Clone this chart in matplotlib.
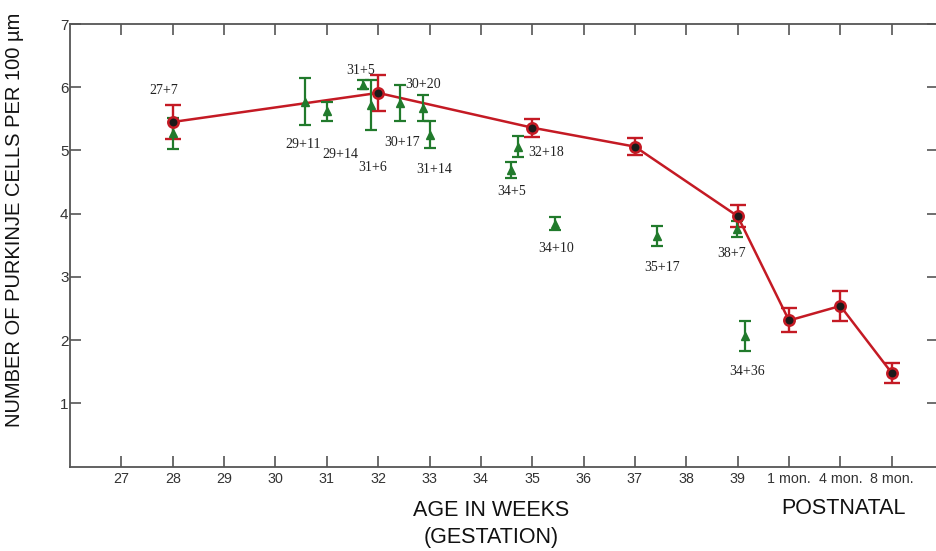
import matplotlib
matplotlib.use("Agg")
import matplotlib.pyplot as plt

# Age axis: gestational weeks 27-39, then postnatal months at 40, 41, 42
tick_pos = list(range(27, 43))
tick_labels = [str(w) for w in range(27, 40)] + ["1 mon.", "4 mon.", "8 mon."]

# Pooled mean per age group (red)
mean_x = [28, 32, 35, 37, 39, 40, 41, 42]
mean_y = [5.45, 5.91, 5.36, 5.06, 3.96, 2.31, 2.54, 1.48]
mean_err = [0.27, 0.28, 0.14, 0.14, 0.17, 0.19, 0.24, 0.16]

# Individual cases (green)
case_names = ["27+7", "29+11", "29+14", "31+5", "31+6", "30+17", "30+20",
              "31+14", "34+5", "32+18", "34+10", "35+17", "38+7", "34+36"]
case_x = [28.0, 30.57, 31.0, 31.71, 31.86, 32.43, 32.87,
          33.0, 34.58, 34.72, 35.45, 37.43, 38.99, 39.15]
case_y = [5.27, 5.77, 5.62, 6.04, 5.72, 5.75, 5.67,
          5.25, 4.69, 5.06, 3.84, 3.65, 3.76, 2.07]
case_err = [0.25, 0.375, 0.15, 0.07, 0.40, 0.285, 0.21,
            0.21, 0.12, 0.17, 0.10, 0.16, 0.13, 0.235]

# where each case label sits (data coords)
label_xy = [(27.82, 5.95), (30.53, 5.10), (31.26, 4.93), (31.65, 6.26),
            (31.90, 4.73), (32.47, 5.12), (32.88, 6.04), (33.09, 4.70),
            (34.60, 4.35), (35.28, 4.97), (35.46, 3.45), (37.53, 3.15),
            (38.89, 3.37), (39.18, 1.50)]

RED = "#c41a24"
GREEN = "#217a2c"
AXC = "#555555"

fig = plt.figure(figsize=(9.37, 5.51), dpi=100)
ax = fig.add_axes([70 / 937, 1 - 466.5 / 551, (937 - 70) / 937 + 0.001, (466.5 - 24) / 551])

# red mean line with error bars
ax.errorbar(mean_x, mean_y, yerr=mean_err, color=RED, lw=1.8, elinewidth=1.7,
            capsize=5.5, capthick=1.7, zorder=2)

# green cases
ax.errorbar(case_x, case_y, yerr=case_err, fmt="^", color=GREEN, ms=5.5,
            elinewidth=1.6, capsize=4.6, capthick=1.6, zorder=3)

# red mean markers on top
ax.plot(mean_x, mean_y, "o", ms=7.5, mfc="#1a1a1a", mec=RED, mew=1.8, zorder=4)

for name, (lx, ly) in zip(case_names, label_xy):
    ax.text(lx, ly, name, ha="center", va="center", fontsize=10,
            family="Liberation Serif", color="#222222", zorder=5)

ax.set_xlim(26, 42.9)
ax.set_ylim(0, 7)
ax.set_xticks(tick_pos)
ax.set_xticklabels(tick_labels)
ax.set_yticks(range(1, 8))

for side in ["left", "bottom", "top", "right"]:
    ax.spines[side].set_color(AXC)
    ax.spines[side].set_linewidth(1.3)

ax.tick_params(axis="both", direction="in", length=8, width=1.2, color=AXC,
               top=True, right=True, labelcolor="#333333")
ax.tick_params(axis="x", pad=4, labelsize=10.3)
ax.tick_params(axis="y", pad=1, labelsize=11)
for lbl in ax.get_xticklabels() + ax.get_yticklabels():
    lbl.set_family("Liberation Sans")

fig.text(15 / 937, 1 - 220 / 551, "NUMBER OF PURKINJE CELLS PER 100 µm",
         rotation=90, ha="center", va="center", fontsize=14.5,
         family="Liberation Sans", color="#111111")
fig.text(491 / 937, 1 - 510 / 551, "AGE IN WEEKS", ha="center", va="center",
         fontsize=15.5, family="Liberation Sans", color="#111111")
fig.text(491 / 937, 1 - 538 / 551, "(GESTATION)", ha="center", va="center",
         fontsize=15.5, family="Liberation Sans", color="#111111")
fig.text(844 / 937, 1 - 508 / 551, "POSTNATAL", ha="center", va="center",
         fontsize=15.5, family="Liberation Sans", color="#111111")

fig.savefig("out.png", dpi=100)
